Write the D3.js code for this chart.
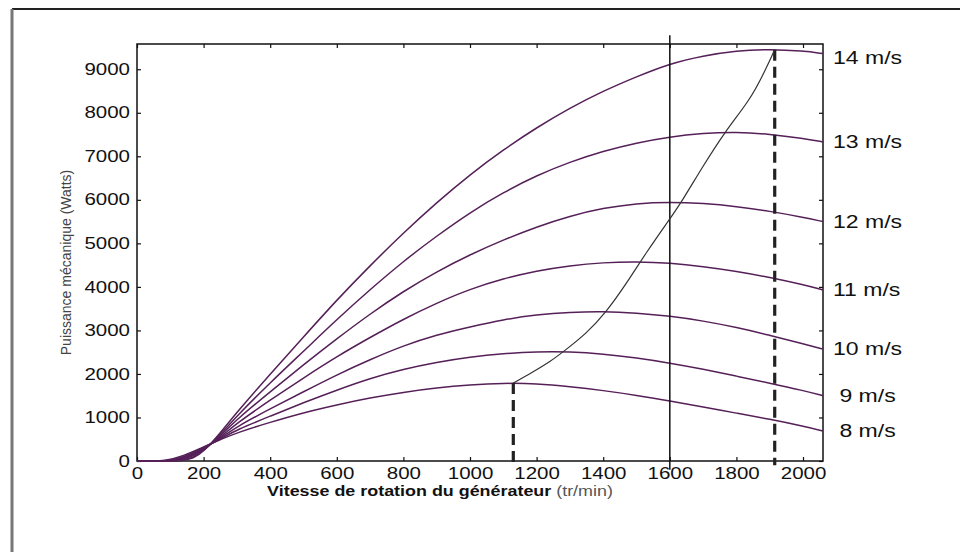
<!DOCTYPE html>
<html>
<head>
<meta charset="utf-8">
<script src="https://cdn.jsdelivr.net/npm/d3@7"></script>
<style>
  body { margin: 0; background: #fff; }
  text { font-family: "Liberation Sans", Arial, sans-serif; }
</style>
</head>
<body>
<div id="chart"></div>
<script>
// wind speeds (m/s) and the power curves: [rpm, watts]
const speeds = [8, 9, 10, 11, 12, 13, 14];

const p8  = [[0,0],[50,0],[80,0],[140,110],[200,330],[250,490],[300,650],[400,890],[500,1110],[600,1290],[700,1450],[800,1580],[900,1680],[1000,1750],[1100,1790],[1200,1780],[1300,1710],[1400,1620],[1500,1510],[1600,1380],[1700,1240],[1800,1100],[1900,960],[2000,800],[2060,690]];
const p9  = [[0,0],[60,0],[90,0],[145,100],[200,310],[250,500],[300,720],[400,1030],[500,1340],[600,1630],[700,1900],[800,2110],[900,2270],[1000,2390],[1100,2470],[1200,2510],[1300,2510],[1400,2460],[1500,2370],[1600,2250],[1700,2110],[1800,1950],[1900,1790],[2000,1620],[2060,1500]];
const p10 = [[0,0],[65,0],[95,0],[150,90],[200,290],[250,520],[300,790],[400,1200],[500,1590],[600,1980],[700,2330],[800,2650],[900,2900],[1000,3080],[1100,3250],[1200,3360],[1300,3420],[1400,3440],[1500,3400],[1600,3330],[1700,3220],[1800,3070],[1900,2890],[2000,2690],[2060,2570]];
const p11 = [[0,0],[70,0],[100,0],[155,80],[200,270],[250,540],[300,870],[400,1400],[500,1910],[600,2400],[700,2840],[800,3260],[900,3630],[1000,3950],[1100,4190],[1200,4370],[1300,4490],[1400,4560],[1500,4580],[1600,4550],[1700,4470],[1800,4360],[1900,4220],[2000,4050],[2060,3930]];
const p12 = [[0,0],[80,0],[110,0],[160,70],[200,250],[250,570],[300,960],[400,1590],[500,2210],[600,2810],[700,3380],[800,3900],[900,4350],[1000,4740],[1100,5080],[1200,5380],[1300,5630],[1400,5810],[1500,5920],[1600,5950],[1700,5920],[1800,5850],[1900,5740],[2000,5600],[2060,5500]];
const p13 = [[0,0],[90,0],[120,0],[165,60],[200,230],[250,600],[300,1040],[400,1800],[500,2520],[600,3250],[700,3940],[800,4590],[900,5170],[1000,5710],[1100,6170],[1200,6560],[1300,6870],[1400,7120],[1500,7310],[1600,7450],[1700,7530],[1800,7560],[1900,7510],[2000,7410],[2060,7330]];
const p14 = [[0,0],[100,0],[130,0],[170,60],[200,210],[250,640],[300,1120],[400,2000],[500,2850],[600,3700],[700,4490],[800,5240],[900,5940],[1000,6580],[1100,7150],[1200,7660],[1300,8110],[1400,8500],[1500,8830],[1600,9130],[1700,9310],[1800,9430],[1900,9460],[2000,9420],[2060,9360]];
const curves = [p8, p9, p10, p11, p12, p13, p14];

// optimum power path between the two dashed limits
const mppt = [[1130,1790],[1190,2050],[1240,2280],[1280,2510],[1350,2930],[1410,3430],[1470,4080],[1530,4800],[1600,5560],[1635,5950],[1700,6780],[1765,7560],[1840,8290],[1880,8870],[1915,9450]];
const refSpeed = 1600;

const xTicks = [0, 200, 400, 600, 800, 1000, 1200, 1400, 1600, 1800, 2000];
const yTicks = [0, 1000, 2000, 3000, 4000, 5000, 6000, 7000, 8000, 9000];
const xTitle = "Vitesse de rotation du générateur";
const xUnit = " (tr/min)";
const yTitle = "Puissance mécanique (Watts)";

const width = 960, height = 552;
const stretch = 1.28; // the scan is wider than tall, text looks stretched

const x = d3.scaleLinear().domain([0, 2060]).range([137, 823]);
const y = d3.scaleLinear().domain([0, 9580]).range([461, 44]);

const svg = d3.select("#chart").append("svg")
    .attr("width", width)
    .attr("height", height)
    .style("background", "#fff");

// outer frame (only top and left visible)
svg.append("line").attr("x1", 12).attr("y1", 9).attr("x2", width).attr("y2", 9)
    .attr("stroke", "#222").attr("stroke-width", 2);
svg.append("line").attr("x1", 12).attr("y1", 9).attr("x2", 12).attr("y2", height)
    .attr("stroke", "#777").attr("stroke-width", 3);

// axes, ticks pointing inside
const gx = svg.append("g").attr("transform", "translate(0,461)")
    .call(d3.axisBottom(x).tickValues(xTicks).tickFormat(d3.format("d"))
        .tickSize(-4).tickSizeOuter(0).tickPadding(7));
const gy = svg.append("g").attr("transform", "translate(137,0)")
    .call(d3.axisLeft(y).tickValues(yTicks).tickFormat(d3.format("d"))
        .tickSize(-4).tickSizeOuter(0).tickPadding(5.5));
svg.append("g").attr("transform", "translate(0,44)")
    .call(d3.axisTop(x).tickValues(xTicks).tickSize(-4).tickSizeOuter(0).tickFormat(""));
svg.append("g").attr("transform", "translate(823,0)")
    .call(d3.axisRight(y).tickValues(yTicks).tickSize(-4).tickSizeOuter(0).tickFormat(""));

svg.selectAll(".domain").remove();
svg.selectAll(".tick line").attr("stroke", "#111").attr("stroke-width", 1.2);
[gx, gy].forEach(g => g.selectAll("text")
    .attr("font-size", 16)
    .attr("fill", "#111")
    .attr("font-family", "Liberation Sans, Arial, sans-serif")
    .attr("transform", `scale(${stretch},1)`));

// plot box
svg.append("rect")
    .attr("x", x(0)).attr("y", y(9580))
    .attr("width", x(2060) - x(0)).attr("height", y(0) - y(9580))
    .attr("fill", "none").attr("stroke", "#111").attr("stroke-width", 1.5);

const line = d3.line()
    .x(d => x(d[0]))
    .y(d => y(d[1]))
    .curve(d3.curveBasis);

// power curves
svg.selectAll("path.wind")
    .data(curves)
    .enter()
    .append("path")
    .attr("class", "wind")
    .attr("d", line)
    .attr("fill", "none")
    .attr("stroke", "#552058")
    .attr("stroke-width", 1.5);

// reference speed line
svg.append("line")
    .attr("x1", x(refSpeed)).attr("x2", x(refSpeed))
    .attr("y1", y(9780)).attr("y2", y(-200))
    .attr("stroke", "#111").attr("stroke-width", 1.5);

// dashed limits
const ends = [mppt[0], mppt[mppt.length - 1]];
svg.selectAll("line.limit")
    .data(ends)
    .enter()
    .append("line")
    .attr("class", "limit")
    .attr("x1", d => x(d[0])).attr("x2", d => x(d[0]))
    .attr("y1", d => y(d[1])).attr("y2", y(-100))
    .attr("stroke", "#222")
    .attr("stroke-width", 3.2)
    .attr("stroke-dasharray", "11,6");

// optimum path
svg.append("path")
    .attr("d", line(mppt))
    .attr("fill", "none")
    .attr("stroke", "#333")
    .attr("stroke-width", 1.2);

// speed labels at the right end of each curve
svg.selectAll("text.speed")
    .data(speeds)
    .enter()
    .append("text")
    .attr("class", "speed")
    .attr("transform", (s, i) => {
        const last = curves[i][curves[i].length - 1];
        return `translate(${x(2060) + 10},${Math.max(y(last[1]), 58)}) scale(${stretch},1)`;
    })
    .attr("dy", "0.35em")
    .attr("font-size", 18)
    .attr("fill", "#111")
    .style("white-space", "pre")
    .text(s => (s < 10 ? " " : "") + s + " m/s");

// axis titles
const xt = svg.append("text")
    .attr("transform", `translate(440,496) scale(${stretch},1)`)
    .attr("text-anchor", "middle")
    .attr("font-size", 14)
    .attr("fill", "#111");
xt.append("tspan").attr("font-weight", "bold").text(xTitle);
xt.append("tspan").attr("fill", "#555").style("white-space", "pre").text(xUnit);

svg.append("text")
    .attr("transform", `translate(71,${(y(0) + y(9580)) / 2 + 10}) rotate(-90)`)
    .attr("text-anchor", "middle")
    .attr("font-size", 14)
    .attr("fill", "#444")
    .text(yTitle);
</script>
</body>
</html>
